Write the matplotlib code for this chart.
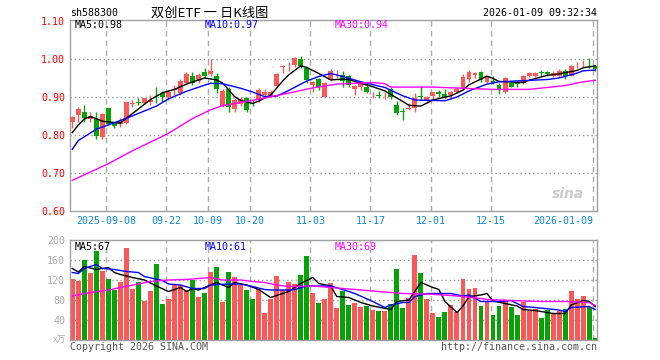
import matplotlib.pyplot as plt
import numpy as np

plt.rcParams['font.family'] = ['DejaVu Sans Mono']

# daily candles, 2025-08-29 .. 2026-01-09 (88 sessions)
open_ = [.835, .852, .860, .841, .841, .794, .870, .832, .829, .832,
         .882, .887, .885, .888, .906, .910, .901, .918, .911, .936,
         .954, .941, .967, .961, .954, .876, .920, .868, .881, .897,
         .885, .892, .905, .905, .929, .980, .979, .984, .999, .976,
         .932, .947, .901, .945, .962, .958, .955, .920, .926, .927,
         .904, .904, .904, .920, .879, .862, .869, .870, .902, .892,
         .903, .914, .908, .905, .914, .923, .947, .958, .967, .940,
         .942, .932, .914, .938, .937, .936, .955, .955, .965, .966,
         .955, .955, .969, .955, .983, .986, .990, .982]
high_ = [.851, .873, .879, .860, .861, .859, .872, .834, .844, .888,
         .892, .897, .898, .905, .926, .917, .918, .932, .947, .967,
         .966, .964, .976, 1.000, .963, .920, .927, .897, .901, .901,
         .892, .923, .920, .918, .963, .984, .991, 1.005, 1.008, .980,
         .943, .949, .940, .974, .971, .969, .958, .932, .943, .936,
         .914, .917, .914, .926, .890, .870, .885, .911, .929, .903,
         .914, .918, .920, .917, .926, .961, .971, .967, .969, .955,
         .955, .936, .952, .940, .940, .958, .967, .967, .971, .969,
         .969, .973, .973, .984, .991, .998, 1.002, .984]
low_ = [.817, .835, .835, .835, .788, .788, .826, .817, .820, .830,
        .873, .879, .881, .879, .883, .888, .892, .905, .905, .932,
        .932, .937, .949, .954, .910, .873, .861, .861, .875, .861,
        .876, .888, .901, .901, .927, .963, .969, .980, .976, .938,
        .914, .918, .899, .942, .949, .926, .927, .905, .918, .910,
        .897, .897, .894, .894, .853, .839, .866, .861, .892, .885,
        .892, .901, .897, .894, .910, .921, .940, .949, .940, .936,
        .933, .907, .911, .926, .927, .934, .952, .952, .954, .954,
        .952, .952, .947, .954, .976, .978, .976, .969]
close_ = [.848, .868, .844, .850, .797, .855, .830, .823, .837, .888,
          .884, .885, .897, .892, .904, .901, .914, .921, .942, .961,
          .938, .958, .955, .969, .920, .916, .873, .892, .894, .866,
          .883, .918, .914, .914, .961, .982, .980, 1.002, .982, .945,
          .940, .927, .938, .969, .963, .943, .932, .929, .940, .914,
          .905, .903, .905, .901, .859, .861, .870, .898, .901, .901,
          .914, .908, .901, .914, .920, .953, .967, .964, .945, .952,
          .936, .918, .949, .927, .935, .955, .963, .964, .963, .960,
          .963, .969, .954, .982, .984, .987, .989, .973]
volume = [122, 119, 160, 135, 179, 138, 122, 100, 116, 185,
          102, 116, 78, 98, 152, 72, 82, 110, 110, 100,
          120, 87, 95, 137, 147, 77, 137, 127, 110, 100,
          82, 103, 55, 83, 129, 100, 117, 112, 130, 168,
          95, 75, 82, 115, 65, 98, 70, 75, 67, 68,
          60, 58, 58, 72, 142, 65, 85, 170, 135, 82,
          55, 47, 57, 70, 57, 122, 102, 105, 68, 78,
          50, 68, 80, 67, 50, 77, 59, 62, 45, 60,
          52, 58, 62, 98, 82, 88, 67, 5]

# moving average lines (session index, value)
ma5_idx = [0, 1, 2, 3, 4, 5, 8, 9, 10, 13, 15, 17, 19, 22, 24, 25, 27, 28, 30, 31, 33, 35, 36, 38, 39,
           41, 43, 45, 46, 48, 50, 52, 55, 56, 58, 60, 63, 65, 66, 69, 70, 71, 75, 76, 79, 81, 84, 85, 87]
ma5_val = [.806, .826, .842, .848, .843, .836, .831, .844, .856, .893, .911, .920, .934, .950, .945, .937,
           .901, .891, .883, .889, .905, .942, .958, .982, .978, .962, .945, .947, .946, .936, .927, .916,
           .888, .878, .876, .892, .903, .918, .932, .955, .949, .941, .938, .944, .957, .961, .970, .977, .982]
ma10_idx = [0, 1, 4, 7, 10, 14, 16, 19, 22, 23, 25, 28, 30, 32, 34, 36, 39, 41, 43, 45, 48, 52, 55, 57,
            62, 64, 66, 69, 71, 75, 79, 81, 84, 85, 87]
ma10_val = [.762, .785, .815, .832, .850, .876, .895, .915, .931, .936, .935, .923, .913, .901, .902, .917,
            .942, .954, .962, .954, .940, .925, .903, .892, .890, .900, .916, .934, .940, .943, .946, .950,
            .963, .969, .971]
ma30_idx = [0, 6, 10, 16, 20, 23, 25, 31, 36, 40, 44, 50, 52, 53, 60, 70, 76, 82, 85, 87]
ma30_val = [.680, .724, .758, .804, .843, .866, .877, .894, .910, .924, .934, .938, .935, .926, .926,
            .920, .920, .930, .940, .944]

vma5_idx = [0, 1, 2, 4, 6, 7, 8, 10, 12, 14, 16, 18, 19, 20, 21, 24, 26, 27, 29, 31, 33, 35, 36, 38, 40,
            41, 43, 44, 46, 48, 50, 53, 54, 56, 58, 60, 61, 62, 64, 65, 66, 68, 69, 70, 72, 74, 75, 77,
            80, 82, 83, 85, 86, 87]
vma5_val = [143, 136, 147, 141, 145, 135, 131, 125, 120, 108, 97, 105, 97, 103, 100, 115, 105, 115, 110,
            101, 85, 93, 97, 113, 125, 113, 108, 87, 85, 75, 68, 61, 77, 80, 115, 105, 101, 77, 55, 68,
            87, 90, 93, 78, 73, 68, 61, 59, 53, 53, 70, 79, 77, 67]
vma10_idx = [0, 1, 2, 4, 5, 7, 9, 11, 12, 15, 16, 18, 20, 22, 23, 26, 28, 30, 32, 33, 36, 37, 39, 43, 45,
             47, 50, 52, 53, 55, 56, 57, 59, 63, 65, 66, 68, 71, 73, 75, 77, 81, 82, 83, 86, 87]
vma10_val = [135, 133, 143, 151, 143, 141, 137, 135, 127, 119, 112, 110, 103, 103, 110, 112, 112, 107,
             101, 100, 100, 101, 108, 108, 101, 93, 77, 65, 70, 75, 75, 87, 93, 93, 88, 90, 77, 77, 79,
             67, 65, 60, 57, 65, 67, 61]
vma30_idx = [0, 2, 6, 8, 11, 13, 16, 19, 23, 25, 28, 30, 32, 34, 36, 40, 43, 45, 47, 51, 55, 59, 63, 65,
             68, 69, 73, 78, 82, 86, 87]
vma30_val = [88, 93, 100, 105, 112, 117, 120, 121, 125, 120, 120, 117, 115, 110, 107, 108, 105, 103, 101,
             97, 93, 92, 89, 87, 83, 81, 79, 77, 77, 75, 69]

date_idx = [6, 16, 23, 30, 40, 50, 60, 70, 87]
date_labels = ['2025-09-08', '09-22', '10-09', '10-20', '11-03', '11-17', '12-01', '12-15', '2026-01-09']
price_ticks = [0.60, 0.70, 0.80, 0.90, 1.00, 1.10]
vol_ticks = [40, 80, 120, 160, 200]

RED = '#fb5858'
GREEN = '#05a305'
GRID = '#aaaaaa'
FRAME = '#a0a0a0'
FS = 7.2
W, H = 660, 360


def box(x0, y0, x1, y1):
    return [x0 / W, 1 - y1 / H, (x1 - x0) / W, (y1 - y0) / H]


fig = plt.figure(figsize=(6.6, 3.6), dpi=100)
ax1 = fig.add_axes(box(70, 20, 597, 210.7))
ax2 = fig.add_axes(box(70, 240, 597, 340))

o = np.array(open_)
h = np.array(high_)
l = np.array(low_)
c = np.array(close_)
x = np.arange(len(c))
colors = np.where(c > o, RED, GREEN)

for ax in (ax1, ax2):
    for d in date_idx:
        ax.axvline(d - 0.4, color=GRID, lw=1, ls=(0, (4, 3)), zorder=0)
    for s in ax.spines.values():
        s.set_color(FRAME)
        s.set_linewidth(1)
    ax.set_xlim(-0.38, 87.3)
    ax.set_xticks([])
    ax.tick_params(axis='y', length=0, pad=3.5, labelsize=FS)

# price panel
for v in [0.70, 0.80, 0.90, 1.00]:
    ax1.axhline(v, color='#999999', lw=1, ls=(0, (1, 2)), zorder=0)
ax1.vlines(x, l, h, colors=colors, lw=1, zorder=2)
ax1.bar(x, np.maximum(np.abs(c - o), 0.0012), bottom=np.minimum(o, c), width=0.82,
        color=colors, lw=0, zorder=3)
ax1.plot(ma5_idx, ma5_val, color='black', lw=1, zorder=4)
ax1.plot(ma10_idx, ma10_val, color='#0000ff', lw=1, zorder=4)
ax1.plot(ma30_idx, ma30_val, color='#ff00ff', lw=1, zorder=4)
ax1.set_ylim(0.60, 1.103)
ax1.set_yticks(price_ticks)
ax1.set_yticklabels(['%.2f' % t for t in price_ticks], color='red')

for d, lab in zip(date_idx, date_labels):
    ha = 'right' if d == date_idx[-1] else 'center'
    ax1.text(d - 0.4, -0.054, lab, transform=ax1.get_xaxis_transform(), ha=ha, va='center',
             color='#0a88d8', fontsize=FS)

ax1.text(0.975, 0.085, 'sina', transform=ax1.transAxes, ha='right', va='center', fontsize=10,
         style='italic', weight='bold', color='#bdbdbd', family='DejaVu Sans', alpha=0.8)

# volume panel
for v in [40, 80, 120, 160]:
    ax2.axhline(v, color='#999999', lw=1, ls=(0, (1, 2)), zorder=0)
ax2.bar(x, volume, width=0.82, color=colors, lw=0, zorder=2)
ax2.plot(vma5_idx, vma5_val, color='black', lw=1, zorder=4)
ax2.plot(vma10_idx, vma10_val, color='#0000ff', lw=1, zorder=4)
ax2.plot(vma30_idx, vma30_val, color='#ff00ff', lw=1, zorder=4)
ax2.set_ylim(0, 200)
ax2.set_yticks(vol_ticks)
ax2.set_yticklabels([str(t) for t in vol_ticks], color='#a8a8a8')

# header and labels
fig.text(70 / W, 1 - 13 / H, 'sh588300', ha='left', va='center', fontsize=FS)
fig.text(210 / W, 1 - 13 / H, '双创ETF 一 日K线图', ha='center', va='center', fontsize=9.5,
         family=['Noto Sans CJK SC', 'DejaVu Sans'])
fig.text(597 / W, 1 - 13 / H, '2026-01-09 09:32:34', ha='right', va='center', fontsize=FS)

fig.text(75 / W, 1 - 25.5 / H, 'MA5:0.98', color='black', va='center', fontsize=FS)
fig.text(205 / W, 1 - 25.5 / H, 'MA10:0.97', color='#0000ff', va='center', fontsize=FS)
fig.text(335 / W, 1 - 25.5 / H, 'MA30:0.94', color='#ff00ff', va='center', fontsize=FS)
fig.text(75 / W, 1 - 246.5 / H, 'MA5:67', color='black', va='center', fontsize=FS)
fig.text(205 / W, 1 - 246.5 / H, 'MA10:61', color='#0000ff', va='center', fontsize=FS)
fig.text(335 / W, 1 - 246.5 / H, 'MA30:69', color='#ff00ff', va='center', fontsize=FS)

fig.text(66 / W, 1 - 340 / H, 'x万', ha='right', va='center', fontsize=6.5, color='#b0b0b0',
         family=['Noto Sans CJK SC', 'DejaVu Sans'])
fig.text(70 / W, 1 - 346.5 / H, 'Copyright 2026 SINA.COM', ha='left', va='center', fontsize=FS,
         color='#555555')
fig.text(597 / W, 1 - 346.5 / H, 'http://finance.sina.com.cn', ha='right', va='center', fontsize=FS,
         color='#555555')

fig.savefig('out.png', dpi=100)
